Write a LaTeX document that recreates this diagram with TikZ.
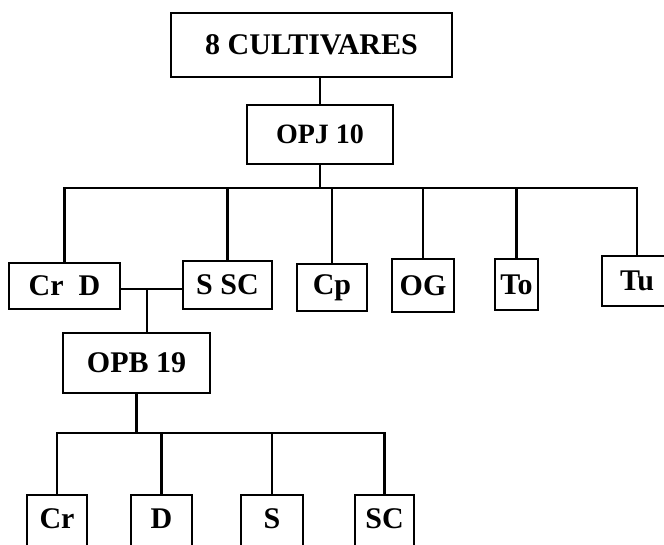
\documentclass[tikz,border=0pt]{standalone}
\usepackage{fontspec}
\setmainfont{Liberation Serif}
\usetikzlibrary{positioning}
\begin{document}
\begin{tikzpicture}[x=1pt,y=-1pt,line width=2.2pt,
 every node/.style={font=\fontsize{30}{34}\selectfont\bfseries},
 box/.style={draw,inner sep=0pt,minimum height=48pt},
 leaf/.style={draw,inner sep=0pt,anchor=north,text height=33pt,text depth=50pt}]
\useasboundingbox (0,0) rectangle (664,544);
\node[box,minimum width=281pt,minimum height=64pt](top) at (311.5,45){8 CULTIVARES};
\node[box,minimum width=146pt,minimum height=59pt,font=\fontsize{28}{32}\selectfont\bfseries](opj) at (320,134.5){OPJ 10};
\node[box,minimum width=111pt,minimum height=46pt](crd) at (64.5,286){Cr\enspace D};
\node[box,minimum width=89pt](ssc) at (227.5,285){S SC};
\node[box,minimum width=70pt,minimum height=47pt](cp) at (332,287.5){Cp};
\node[box,minimum width=62pt,minimum height=53pt](og) at (423,285.5){OG};
\node[box,minimum width=43pt,minimum height=51pt](to) at (516.5,284.5){To};
\node[box,minimum width=70pt,minimum height=50pt](tu) at (637,281){Tu};
\node[box,minimum width=147pt,minimum height=60pt](opb) at (136.5,363){OPB 19};
\node[leaf,minimum width=60pt](lcr) at (57,494){Cr};
\node[leaf,minimum width=61pt](ld) at (161.5,494){D};
\node[leaf,minimum width=62pt](ls) at (272,494){S};
\node[leaf,minimum width=59pt](lsc) at (384.5,494){SC};
% first level
\coordinate (bus) at (0,188);
\draw (top.south -| opj.north) -- (opj.north);
\draw (opj.south) -- (opj.south |- bus);
\draw (crd.north) |- (bus -| tu.north) -- (tu.north);
\foreach \n in {ssc,cp,og,to}{\draw (\n.north) -- (\n.north |- bus);}
% Cr D x S SC
\coordinate (join) at (147,289);
\draw (crd.east |- join) -- (ssc.west |- join);
\draw (join) -- (join |- opb.north);
% second level
\coordinate (bus2) at (0,433);
\draw (opb.south) -- (opb.south |- bus2);
\draw (lcr.north) |- (bus2 -| lsc.north) -- (lsc.north);
\foreach \n in {ld,ls}{\draw (\n.north) -- (\n.north |- bus2);}
\end{tikzpicture}
\end{document}
